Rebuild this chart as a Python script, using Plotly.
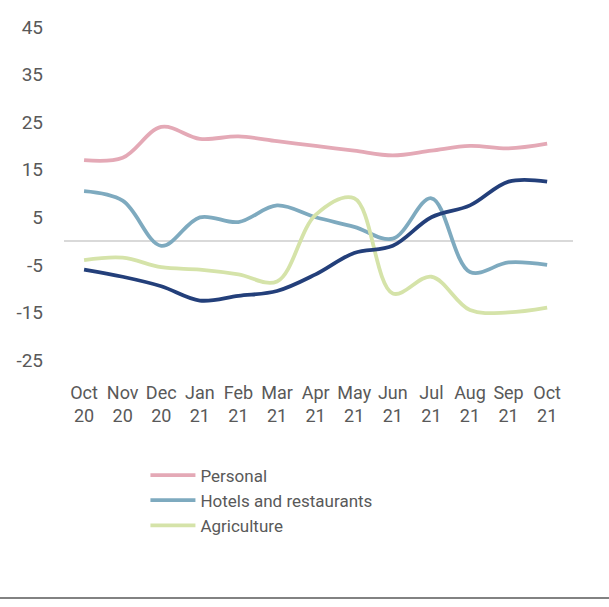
import plotly.graph_objects as go

months = ["Oct<br>20", "Nov<br>20", "Dec<br>20", "Jan<br>21", "Feb<br>21", "Mar<br>21", "Apr<br>21",
          "May<br>21", "Jun<br>21", "Jul<br>21", "Aug<br>21", "Sep<br>21", "Oct<br>21"]
personal = [17, 17.5, 24, 21.5, 22, 21, 20, 19, 18, 19, 20, 19.5, 20.5]
hotels = [10.5, 8.5, -1, 5, 4, 7.5, 5, 3, 0.5, 9, -6.5, -4.5, -5]
agriculture = [-4, -3.5, -5.5, -6, -7, -8.5, 5.5, 9, -11, -7.5, -14.5, -15, -14]
total = [-6, -7.5, -9.5, -12.5, -11.5, -10.5, -7, -2.5, -1, 5, 7.5, 12.5, 12.5]
yticks = [-25, -15, -5, 5, 15, 25, 35, 45]
ytick_text = ["-25", "-15", "-5", "5", "15", "25", "35", "45"]

xi = list(range(len(months)))
font = "Roboto"
fig = go.Figure()
fig.add_trace(go.Scatter(x=xi, y=personal, name="Personal", mode="lines",
                         line=dict(color="#E4A9B6", width=3.8, shape="spline", smoothing=1)))
fig.add_trace(go.Scatter(x=xi, y=hotels, name="Hotels and restaurants", mode="lines",
                         line=dict(color="#7EAABF", width=3.8, shape="spline", smoothing=1)))
fig.add_trace(go.Scatter(x=xi, y=agriculture, name="Agriculture", mode="lines",
                         line=dict(color="#D5E3A9", width=3.8, shape="spline", smoothing=1)))
fig.add_trace(go.Scatter(x=xi, y=total, name="Total", mode="lines", showlegend=False,
                         line=dict(color="#233F7A", width=3.8, shape="spline", smoothing=1)))

fig.add_shape(type="line", xref="paper", yref="y", x0=0, x1=1, y0=0, y1=0,
              line=dict(color="#D9D9D9", width=2), layer="below")
fig.add_shape(type="line", xref="paper", yref="paper", x0=-0.2, x1=1.2, y0=-0.715, y1=-0.715,
              line=dict(color="#595959", width=1.5))

fig.update_layout(
    width=609, height=607,
    margin=dict(l=64, r=36, t=27, b=247, autoexpand=False),
    plot_bgcolor="white", paper_bgcolor="white",
    font=dict(family=font, size=17, color="#595959"),
    xaxis=dict(range=[-0.52, 12.67], tickmode="array", tickvals=xi, ticktext=months,
               showgrid=False, zeroline=False, showline=False, ticks="", automargin=False,
               ticklabelstandoff=20, tickfont=dict(size=18, color="#595959")),
    yaxis=dict(range=[-25, 45], tickvals=yticks, ticktext=ytick_text, showgrid=False,
               zeroline=False, showline=False, ticks="", ticklabelstandoff=20, automargin=False,
               tickfont=dict(size=19, color="#595959")),
    legend=dict(x=0.16, y=-0.293, xanchor="left", yanchor="top", orientation="v",
                font=dict(size=17, color="#595959"), itemwidth=45, tracegroupgap=0,
                bgcolor="rgba(0,0,0,0)"),
    showlegend=True,
)
fig.write_html("out.html", config={"displayModeBar": False},
               post_script="document.body.style.margin='0';")
